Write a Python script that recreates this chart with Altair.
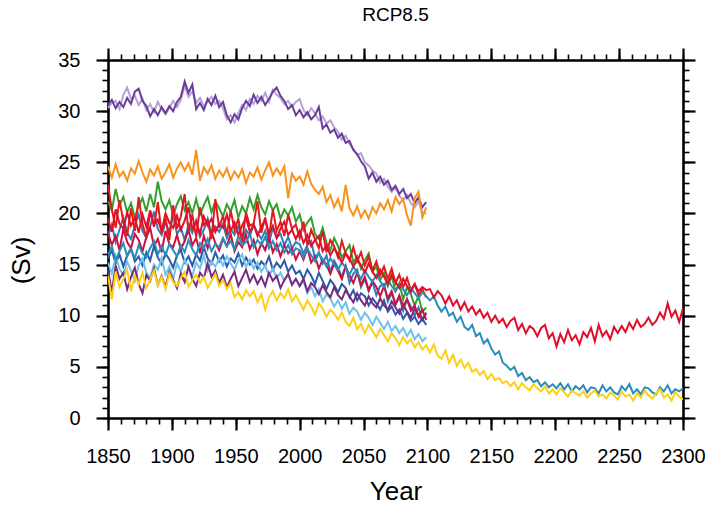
import altair as alt
import pandas as pd

series_names = [
    "s01_lightpurple", "s02_darkpurple", "s03_orange", "s04_green", "s05_blue",
    "s06_darkblue", "s07_lightblue", "s08_violet", "s09_crimson", "s10_red",
    "s11_teal", "s12_yellow", "s13_red_long",
]
colors = [
    "#b7a2d6", "#6a3d9a", "#f7941d", "#33a02c", "#2c7fc0",
    "#2a5aa8", "#6fc3e8", "#762a83", "#cc1040", "#e31a1c",
    "#2a8cbd", "#fdd017", "#e0102a",
]

light_purple = [30.3, 30.8, 31.0, 30.2, 31.6, 32.3, 31.2, 31.5, 30.6, 31.2,
                30.1, 30.7, 29.9, 30.9, 30.2, 29.7, 30.3, 31.0, 30.4, 31.1,
                32.5, 31.4, 31.9, 30.8, 31.3, 30.5, 30.9, 31.4, 30.7, 31.0,
                30.3, 29.2, 29.6, 28.9, 29.8, 30.6, 30.1, 31.2, 30.7, 31.5,
                31.0, 31.8, 30.9, 32.1, 31.6, 31.3, 30.7, 31.0, 30.4, 30.9,
                31.2, 30.1, 29.6, 30.3, 29.8, 29.1, 29.5, 28.8, 29.1, 28.4,
                28.0, 27.2, 27.6, 26.8, 26.3, 25.7, 25.9, 25.0, 24.7, 24.2,
                23.9, 23.0, 23.4, 22.6, 22.1, 22.5, 21.7, 21.3, 21.8, 21.0,
                20.6, 21.2, 20.1, 20.0]
dark_purple = [30.6, 31.1, 30.3, 30.9, 30.4, 31.3, 30.7, 31.9, 32.2, 31.0,
               30.5, 29.5, 30.2, 29.6, 30.4, 29.8, 30.5, 30.0, 30.9, 31.4,
               32.9, 31.8, 32.6, 30.2, 30.8, 30.1, 31.2, 30.6, 31.5, 30.4,
               30.9, 29.6, 28.9, 29.7, 29.2, 30.3, 31.0, 30.5, 31.6, 30.8,
               31.4, 30.6, 31.2, 31.9, 32.3, 31.5, 31.0, 30.2, 30.6, 29.6,
               30.1, 29.4, 29.9, 29.2, 29.6, 30.4, 28.3, 28.7, 27.9, 28.2,
               27.4, 27.8, 26.9, 27.1, 26.2, 25.8, 25.1, 24.6, 23.4, 24.0,
               23.1, 23.6, 22.8, 23.2, 22.3, 22.7, 21.9, 22.4, 21.5, 21.9,
               21.0, 21.6, 20.6, 21.1]
orange = [24.6, 23.5, 24.8, 23.6, 24.1, 23.2, 24.4, 23.9, 25.1, 24.0,
          23.1, 24.3, 23.7, 24.6, 23.4, 24.0, 24.8, 23.5, 24.4, 25.0,
          24.2, 24.9, 23.8, 26.2, 23.2, 24.5, 23.9, 24.7, 23.4, 24.2,
          23.6, 24.4, 23.3, 24.1, 23.5, 24.3, 23.0, 24.0, 23.6, 24.5,
          23.3, 24.2, 25.0, 23.7, 24.4, 23.8, 24.6, 21.5, 23.9, 23.2,
          23.6, 22.8, 24.1, 22.9, 22.3, 21.9, 22.6, 21.1, 21.8, 20.6,
          21.4, 20.2, 22.8, 20.5, 19.8, 20.7, 19.6, 20.3, 19.5, 20.6,
          20.0, 21.0, 20.4, 21.3, 20.2, 21.6, 20.9, 21.4, 19.8, 18.8,
          21.5, 22.1, 19.6, 20.6]
green = [21.2, 20.3, 22.4, 20.8, 21.6, 20.1, 21.0, 19.6, 20.7, 21.5,
         20.2, 21.9, 20.6, 23.1, 21.2, 20.4, 21.3, 19.8, 20.9, 21.7,
         20.3, 21.1, 20.0, 21.4, 19.9, 20.8, 21.6, 20.1, 21.2, 20.5,
         19.7, 20.9, 20.2, 21.3, 19.6, 20.7, 20.0, 21.5, 20.4, 21.8,
         20.6, 19.9, 21.2, 20.3, 20.9, 19.5, 20.4, 19.8, 20.6, 19.2,
         19.9, 18.4, 19.1, 19.6, 18.0, 17.5, 18.6, 17.1, 16.4, 17.6,
         16.8, 15.7, 16.3, 16.9, 15.2, 15.8, 14.6, 15.4, 16.1, 14.3,
         14.8, 13.5, 14.2, 12.9, 13.9, 12.4, 13.2, 11.6, 12.8, 12.1,
         11.0, 11.9, 10.4, 10.8]
blue = [17.8, 18.9, 17.2, 18.4, 19.6, 18.1, 17.5, 18.8, 19.9, 18.3,
        17.6, 18.7, 20.2, 18.5, 17.9, 19.1, 18.2, 19.8, 18.0, 18.6,
        17.4, 18.9, 18.1, 19.3, 17.7, 18.4, 19.5, 17.9, 18.7, 18.2,
        19.0, 17.6, 18.5, 17.9, 18.8, 17.3, 18.4, 17.8, 18.9, 18.1,
        17.5, 18.3, 17.1, 18.6, 17.6, 18.0, 16.9, 17.7, 16.6, 17.2,
        17.0, 16.1, 16.9, 17.3, 15.6, 16.2, 15.1, 15.9, 14.3, 15.4,
        14.7, 13.8, 14.9, 13.2, 14.1, 14.5, 12.8, 13.6, 12.4, 13.3,
        12.0, 12.9, 13.1, 11.4, 12.2, 11.1, 11.8, 10.5, 11.6, 10.9,
        10.0, 10.8, 9.6, 10.2]
dark_blue = [15.6, 16.4, 15.1, 16.0, 14.8, 15.9, 16.6, 15.3, 15.8, 14.9,
             16.2, 15.4, 16.8, 15.7, 15.0, 16.1, 15.5, 14.7, 15.9, 16.4,
             15.2, 15.8, 14.9, 16.0, 15.4, 16.7, 15.6, 15.1, 16.2, 15.3,
             15.9, 14.8, 15.6, 15.2, 16.1, 14.9, 15.7, 15.0, 15.5, 14.6,
             15.3, 14.9, 15.8, 14.5, 15.2, 14.7, 15.4, 14.3, 14.9, 14.1,
             14.4, 13.6, 14.5, 13.9, 13.1, 14.2, 13.4, 12.6, 13.5, 13.0,
             12.3, 13.1, 12.7, 11.8, 12.5, 11.5, 12.2, 11.9, 11.0, 11.7,
             11.2, 10.6, 11.5, 10.4, 10.9, 10.1, 10.6, 9.7, 10.3, 9.5,
             9.9, 9.2, 9.7, 9.1]
light_blue = [15.2, 14.1, 15.8, 14.6, 13.9, 15.3, 14.4, 13.4, 14.9, 15.6,
              14.2, 13.7, 15.0, 14.5, 15.7, 14.0, 14.8, 13.6, 15.1, 14.3,
              15.5, 14.7, 13.9, 15.2, 14.6, 15.9, 14.4, 15.3, 14.8, 15.6,
              14.9, 15.8, 15.1, 14.5, 15.4, 16.0, 14.8, 15.5, 14.6, 15.2,
              14.3, 14.9, 13.9, 14.6, 13.7, 14.2, 13.4, 14.0, 13.1, 13.6,
              12.9, 13.4, 12.2, 12.8, 11.9, 12.6, 11.4, 12.1, 11.7, 10.9,
              11.5, 10.7, 11.3, 10.2, 10.8, 10.4, 9.6, 10.3, 9.8, 9.1,
              9.9, 9.3, 8.7, 9.4, 8.5, 9.0, 8.3, 8.8, 8.0, 8.6,
              7.7, 8.2, 7.5, 7.9]
violet = [14.5, 12.3, 14.9, 13.6, 14.2, 12.6, 13.8, 14.7, 13.1, 12.2,
          14.0, 13.4, 14.6, 13.0, 13.9, 12.8, 14.3, 13.5, 12.7, 14.1,
          13.3, 14.8, 13.6, 12.9, 14.2, 13.7, 15.1, 13.8, 14.4, 13.2,
          14.0, 12.8, 13.6, 14.3, 12.9, 13.7, 14.5, 13.3, 14.0, 13.1,
          13.8, 12.9, 14.2, 13.4, 13.9, 12.7, 13.5, 14.1, 13.0, 13.6,
          12.9, 13.6, 12.4, 13.2, 12.8, 12.1, 13.0, 12.3, 11.8, 12.8,
          12.0, 11.6, 12.5, 11.9, 11.3, 12.2, 11.5, 11.0, 11.9, 11.2,
          10.8, 11.7, 11.0, 10.6, 11.4, 10.8, 10.2, 11.1, 10.4, 9.8,
          10.7, 10.1, 9.6, 10.3]
crimson = [18.1, 16.9, 17.8, 16.4, 18.5, 17.2, 16.6, 18.0, 17.4, 16.3,
           17.7, 18.6, 16.8, 17.5, 16.2, 18.3, 17.0, 16.7, 17.9, 16.5,
           17.3, 18.4, 16.9, 17.6, 16.1, 17.8, 16.6, 18.2, 17.1, 16.4,
           17.5, 16.8, 18.0, 16.3, 17.2, 16.7, 17.9, 16.5, 17.4, 16.0,
           17.1, 16.4, 17.7, 16.2, 17.0, 15.8, 16.9, 16.1, 16.6, 15.5,
           16.3, 15.5, 16.6, 15.2, 15.8, 14.6, 15.5, 15.0, 14.1, 15.1,
           14.4, 13.6, 14.8, 13.9, 13.2, 14.2, 13.0, 13.8, 12.5, 13.4,
           12.8, 11.9, 12.9, 11.7, 12.4, 11.1, 12.0, 10.9, 11.6, 10.5,
           11.0, 9.9, 10.6, 9.6]
red = [22.8, 20.4, 18.6, 21.3, 19.2, 17.8, 20.5, 18.3, 21.6, 19.0,
       17.6, 20.2, 18.7, 21.1, 18.0, 19.6, 17.4, 20.8, 18.5, 19.7,
       21.9, 18.2, 19.9, 17.7, 20.6, 18.9, 19.3, 17.5, 21.4, 18.6,
       19.8, 17.9, 20.3, 18.4, 19.5, 17.3, 20.1, 18.8, 19.0, 21.2,
       18.1, 19.6, 17.6, 20.4, 18.3, 19.2, 17.8, 19.9, 18.5, 18.9,
       17.6, 19.2, 16.9, 18.4, 17.5, 16.6, 18.3, 16.2, 17.4, 16.8,
       15.7, 17.3, 16.1, 15.4, 16.7, 15.3, 16.2, 14.9, 15.8, 14.4,
       15.3, 14.0, 14.8, 13.6, 14.6, 13.2, 14.0, 12.8, 13.7, 12.5,
       13.1, 12.0, 12.6, 11.8]
teal_long = [15.9, 16.8, 15.4, 16.3, 17.1, 15.8, 16.5, 15.6, 16.9, 16.1,
             15.7, 16.6, 17.3, 16.0, 16.8, 15.9, 17.0, 16.4, 15.8, 16.9,
             16.2, 17.4, 16.5, 15.9, 17.1, 16.6, 17.5, 16.3, 17.0, 16.7,
             17.6, 16.8, 17.3, 16.5, 17.8, 16.9, 17.2, 18.0, 16.7, 17.4,
             16.9, 17.7, 16.6, 17.3, 16.4, 17.1, 16.2, 16.9, 16.0, 16.6,
             16.4, 15.7, 16.6, 15.9, 15.3, 16.1, 15.5, 14.8, 15.6, 15.0,
             14.5, 15.2, 14.7, 14.0, 14.8, 14.2, 13.6, 14.4, 13.8, 13.3,
             14.0, 13.4, 12.8, 13.5, 12.9, 12.4, 13.1, 12.6, 12.0, 12.7,
             12.2, 11.7, 12.3, 11.9,
             11.5, 11.9, 11.0, 10.4, 10.9, 10.0, 10.3, 9.4, 9.9, 8.9,
             8.6, 9.1, 8.0, 8.3, 7.3, 7.7, 6.8, 6.2, 6.5, 5.4,
             5.1, 4.7, 5.0, 4.1, 4.4, 3.7, 4.0, 3.5, 3.7, 3.1,
             3.5, 3.0, 3.3, 2.9, 3.4, 2.8, 3.3, 2.6, 3.1, 2.8,
             3.2, 2.5, 3.0, 2.9, 2.4, 3.2, 2.6, 3.0, 2.5, 2.3,
             3.1, 2.7, 3.3, 2.4, 2.8, 2.3, 3.0, 2.9, 2.5, 2.3,
             3.0, 2.6, 3.2, 2.4, 2.8, 2.6, 2.9]
yellow_long = [13.9, 11.6, 14.3, 12.8, 13.6, 14.5, 12.4, 13.9, 13.1, 14.2,
               12.7, 13.5, 14.4, 13.0, 13.8, 12.6, 14.1, 13.3, 12.9, 13.7,
               14.3, 12.8, 13.5, 14.0, 13.2, 13.8, 12.7, 13.4, 14.1, 12.9,
               13.5, 12.6, 13.2, 11.8, 12.3, 11.6, 12.5, 11.9, 12.4, 11.3,
               12.1, 10.6, 11.8, 12.4, 11.5, 12.2, 11.7, 12.6, 11.4, 12.0,
               11.3, 10.6, 11.5, 10.9, 10.1, 11.2, 10.7, 9.9, 10.6, 10.2,
               9.6, 10.3, 9.4, 9.0, 9.8, 8.7, 9.2, 8.3, 9.1, 8.5,
               7.9, 8.7, 8.1, 7.5, 8.3, 7.8, 7.1, 7.9, 7.3, 7.7,
               6.9, 7.4, 6.7, 7.1,
               6.4, 7.2, 6.1, 5.8, 6.6, 5.4, 6.2, 5.1, 5.7, 4.9,
               5.4, 4.5, 4.8, 4.2, 4.6, 3.8, 4.3, 3.7, 3.9, 3.4,
               3.6, 3.1, 3.5, 2.8, 3.4, 3.0, 2.7, 3.3, 2.9, 2.6,
               3.1, 2.4, 2.8, 2.3, 2.9, 2.5, 2.1, 2.7, 2.4, 2.2,
               2.6, 2.0, 2.4, 2.7, 2.1, 2.3, 1.9, 2.5, 2.2, 1.8,
               2.6, 2.1, 2.3, 1.7, 2.4, 2.0, 2.7, 2.2, 1.9, 2.4,
               2.8, 2.0, 2.3, 1.7, 2.5, 2.1, 1.8]
red_long = [19.5, 18.2, 20.4, 19.0, 18.5, 20.1, 18.8, 19.6, 18.1, 19.9,
            18.7, 20.3, 18.9, 19.4, 18.3, 20.0, 19.1, 18.6, 19.8, 18.4,
            19.3, 20.6, 18.5, 19.2, 18.0, 19.7, 18.8, 19.5, 18.2, 19.0,
            18.6, 19.9, 18.3, 19.1, 17.9, 18.8, 19.6, 18.2, 18.9, 17.8,
            18.7, 19.4, 18.0, 18.8, 17.6, 18.5, 19.2, 17.9, 18.4, 17.5,
            18.3, 17.1, 17.9, 16.8, 17.4, 17.8, 16.3, 16.9, 15.9, 16.6,
            16.0, 15.2, 16.1, 15.6, 14.8, 15.5, 14.9, 14.2, 15.1, 14.3,
            13.7, 14.5, 13.8, 13.1, 14.0, 13.3, 12.7, 13.6, 12.9, 12.3,
            13.1, 12.4, 12.8, 12.5,
            12.6, 11.8, 12.4, 12.0, 11.2, 11.9, 11.0, 11.5, 10.6, 11.3,
            10.4, 10.9, 10.1, 10.6, 9.8, 10.3, 9.4, 10.0, 9.3, 9.7,
            8.9, 9.5, 9.8, 8.6, 9.2, 8.3, 9.0, 8.7, 8.0, 8.8,
            9.1, 7.8, 8.3, 7.0, 8.2, 7.4, 8.6, 7.6, 8.1, 7.2,
            8.4, 7.9, 8.8, 7.5, 9.1, 8.0, 8.5, 7.7, 8.9, 8.3,
            9.0, 8.4, 9.3, 8.7, 9.6, 8.9, 9.2, 9.8, 9.1, 9.5,
            10.3, 9.7, 11.2, 9.9, 10.5, 9.4, 10.7]

series_values = [light_purple, dark_purple, orange, green, blue, dark_blue,
                 light_blue, violet, crimson, red, teal_long, yellow_long, red_long]

start_year = 1850
year_step = 3

x_major = [1850, 1900, 1950, 2000, 2050, 2100, 2150, 2200, 2250, 2300]
x_minor = list(range(1850, 2301, 10))
y_major = [0, 5, 10, 15, 20, 25, 30, 35]
y_minor = list(range(0, 36))

rows = []
for name, vals in zip(series_names, series_values):
    for i, v in enumerate(vals):
        rows.append({"series": name, "year": start_year + year_step * i, "value": v})
df = pd.DataFrame(rows)
frame_df = pd.DataFrame({"year": [1850], "value": [0.0]})

FONT = "Liberation Sans"
xs = alt.Scale(domain=[1850, 2300], nice=False, zero=False)
ys = alt.Scale(domain=[0, 35], nice=False, zero=False)

lines = alt.Chart(df).mark_line(strokeWidth=2, clip=True).encode(
    x=alt.X("year:Q", scale=xs, axis=alt.Axis(
        orient="bottom", values=x_major, format="d", tickSize=12, tickWidth=2.2,
        domainWidth=2.6, labelPadding=16, labelFontSize=20, title="Year",
        titleFontSize=26, titlePadding=12)),
    y=alt.Y("value:Q", scale=ys, axis=alt.Axis(
        orient="left", values=y_major, format="d", tickSize=12, tickWidth=2.2,
        domainWidth=2.6, labelPadding=16, labelFontSize=20, title="(Sv)",
        titleFontSize=26, titleX=-74, titleY=200)),
    color=alt.Color("series:N", scale=alt.Scale(domain=series_names, range=colors), legend=None),
)

def frame_layer(xaxis, yaxis):
    return alt.Chart(frame_df).mark_point(opacity=0).encode(
        x=alt.X("year:Q", scale=xs, axis=xaxis),
        y=alt.Y("value:Q", scale=ys, axis=yaxis),
    )

minor_bl = frame_layer(
    alt.Axis(orient="bottom", values=x_minor, tickSize=6, tickWidth=1.6, labels=False, domain=False, title=""),
    alt.Axis(orient="left", values=y_minor, tickSize=6, tickWidth=1.6, labels=False, domain=False, title=""),
)
major_tr = frame_layer(
    alt.Axis(orient="top", values=x_major, tickSize=12, tickWidth=2.2, domainWidth=2.6, labels=False, title=""),
    alt.Axis(orient="right", values=y_major, tickSize=12, tickWidth=2.2, domainWidth=2.6, labels=False, title=""),
)
minor_tr = frame_layer(
    alt.Axis(orient="top", values=x_minor, tickSize=6, tickWidth=1.6, labels=False, domain=False, title=""),
    alt.Axis(orient="right", values=y_minor, tickSize=6, tickWidth=1.6, labels=False, domain=False, title=""),
)

chart = alt.layer(lines, minor_bl, major_tr, minor_tr).resolve_axis(
    x="independent", y="independent"
).properties(
    width=575, height=358,
    background="white",
    title=alt.TitleParams("RCP8.5", fontSize=19, font=FONT, fontWeight="normal",
                          color="black", anchor="middle", offset=22),
    autosize=alt.AutoSizeParams(type="none"),
    padding={"left": 108, "top": 60, "right": 24, "bottom": 88},
).configure_view(stroke=None).configure_axis(
    labelFont=FONT, titleFont=FONT, titleFontWeight="normal", labelColor="black",
    titleColor="black", tickColor="black", domainColor="black", grid=False,
    labelFlush=False,
)

chart.save("out.html", embed_options={"renderer": "svg", "actions": False})
